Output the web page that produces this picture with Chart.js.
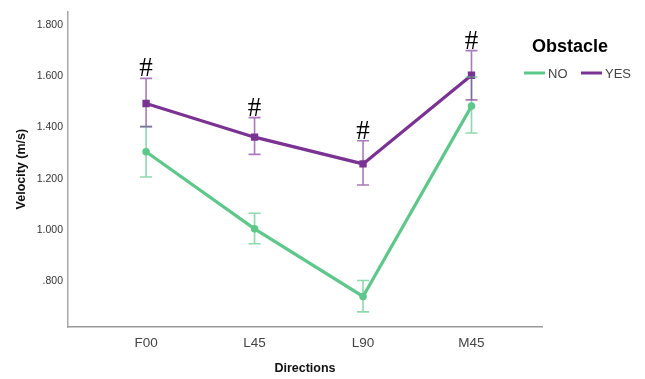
<!DOCTYPE html>
<html>
<head>
<meta charset="utf-8">
<script src="https://cdn.jsdelivr.net/npm/chart.js@4/dist/chart.umd.min.js"></script>
<style>
  html, body { margin: 0; padding: 0; background: #fff; }
  canvas { display: block; }
</style>
</head>
<body>
<canvas id="chart" width="645" height="379"></canvas>
<script>
'use strict';

// directions on the x axis
var directions = ["F00", "L45", "L90", "M45"];

// Obstacle = NO
var noMean = [1.305, 1.005, 0.742, 1.483];
var noLow  = [1.207, 0.947, 0.682, 1.378];
var noHigh = [1.403, 1.066, 0.804, 1.596];

// Obstacle = YES
var yesMean = [1.493, 1.362, 1.258, 1.603];
var yesLow  = [1.403, 1.295, 1.176, 1.507];
var yesHigh = [1.591, 1.438, 1.348, 1.699];

// "#" significance marks over YES
var sigMarks = [true, true, true, true];

var yTicks = [0.8, 1.0, 1.2, 1.4, 1.6, 1.8];

var green = "#5ec88b";
var purple = "#7a3393";

function toPoints(arr) {
    return arr.map(function(v, i) { return { x: i, y: v }; });
}

// error bars, # marks and the legend
var extrasPlugin = {
    id: 'extras',
    afterDatasetsDraw: function(chart) {
        var ctx = chart.ctx;
        var xs = chart.scales.x, ys = chart.scales.y;
        var bars = [
            { low: noLow, high: noHigh, color: "rgba(94,200,139,0.7)" },
            { low: yesLow, high: yesHigh, color: "rgba(122,51,147,0.65)" }
        ];
        ctx.save();
        bars.forEach(function(b) {
            ctx.strokeStyle = b.color;
            ctx.lineWidth = 1.6;
            b.low.forEach(function(lo, i) {
                var px = xs.getPixelForValue(i);
                var y1 = ys.getPixelForValue(lo);
                var y2 = ys.getPixelForValue(b.high[i]);
                ctx.beginPath();
                ctx.moveTo(px, y1); ctx.lineTo(px, y2);
                ctx.moveTo(px - 6, y1); ctx.lineTo(px + 6, y1);
                ctx.moveTo(px - 6, y2); ctx.lineTo(px + 6, y2);
                ctx.stroke();
            });
        });

        // # marks
        ctx.fillStyle = "#000";
        ctx.font = "27px 'Liberation Serif'";
        ctx.textAlign = "center";
        ctx.textBaseline = "alphabetic";
        sigMarks.forEach(function(s, i) {
            if (!s) return;
            var px = xs.getPixelForValue(i);
            var top = ys.getPixelForValue(yesHigh[i]);
            ctx.fillText("#", px, top - 2);
        });

        // legend
        ctx.textAlign = "left";
        ctx.textBaseline = "middle";
        ctx.fillStyle = "#000";
        ctx.font = "bold 18px 'Liberation Sans'";
        ctx.fillText("Obstacle", 532, 47);
        ctx.font = "13px 'Liberation Sans'";
        ctx.lineWidth = 3;
        var items = [
            { label: "NO", color: green, x: 524 },
            { label: "YES", color: purple, x: 581 }
        ];
        items.forEach(function(it) {
            ctx.strokeStyle = it.color;
            ctx.beginPath();
            ctx.moveTo(it.x, 73); ctx.lineTo(it.x + 21, 73);
            ctx.stroke();
            ctx.fillStyle = "#444";
            ctx.fillText(it.label, it.x + 24, 74);
        });
        ctx.restore();
    }
};

var ctx = document.getElementById("chart").getContext('2d');
var chart = new Chart(ctx, {
    type: 'line',
    data: {
        datasets: [{
            label: "NO",
            data: toPoints(noMean),
            borderColor: green,
            backgroundColor: green,
            borderWidth: 3.2,
            pointStyle: 'circle',
            pointRadius: 3.8,
            pointBorderWidth: 0,
            tension: 0
        }, {
            label: "YES",
            data: toPoints(yesMean),
            borderColor: purple,
            backgroundColor: purple,
            borderWidth: 3.2,
            pointStyle: 'rect',
            pointRadius: 5.2,
            pointBorderWidth: 0,
            tension: 0
        }]
    },
    options: {
        responsive: false,
        animation: false,
        devicePixelRatio: 1,
        layout: {
            padding: { top: 10, right: 103, left: 0, bottom: 0 }
        },
        plugins: {
            legend: { display: false },
            tooltip: { enabled: false }
        },
        scales: {
            x: {
                type: 'linear',
                min: -0.72,
                max: 3.65,
                afterFit: function(s) { s.height = 52; },
                afterBuildTicks: function(s) {
                    s.ticks = directions.map(function(d, i) { return { value: i }; });
                },
                grid: { display: false, drawTicks: false },
                border: { display: true, color: '#9a9a9a', width: 1.5 },
                ticks: {
                    padding: 8,
                    color: '#444',
                    font: { family: 'Liberation Sans', size: 13.5 },
                    callback: function(value) { return directions[value]; }
                },
                title: {
                    display: true,
                    text: 'Directions',
                    color: '#111',
                    font: { family: 'Liberation Sans', size: 12.5, weight: 'bold' },
                    padding: { top: 0, bottom: 3 }
                }
            },
            y: {
                min: 0.623,
                max: 1.852,
                afterFit: function(s) { s.width = 68; },
                afterBuildTicks: function(s) {
                    s.ticks = yTicks.map(function(v) { return { value: v }; });
                },
                grid: { display: false, drawTicks: false },
                border: { display: true, color: '#a8a8a8', width: 1.5 },
                ticks: {
                    padding: 5,
                    color: '#333',
                    font: { family: 'Liberation Sans', size: 10.5 },
                    callback: function(value) {
                        var s = value.toFixed(3);
                        return value < 1 ? s.slice(1) : s;
                    }
                },
                title: {
                    display: true,
                    text: 'Velocity (m/s)',
                    color: '#111',
                    font: { family: 'Liberation Sans', size: 12.5, weight: 'bold' },
                    padding: { top: 14, bottom: 0 }
                }
            }
        }
    },
    plugins: [extrasPlugin]
});
</script>
</body>
</html>
